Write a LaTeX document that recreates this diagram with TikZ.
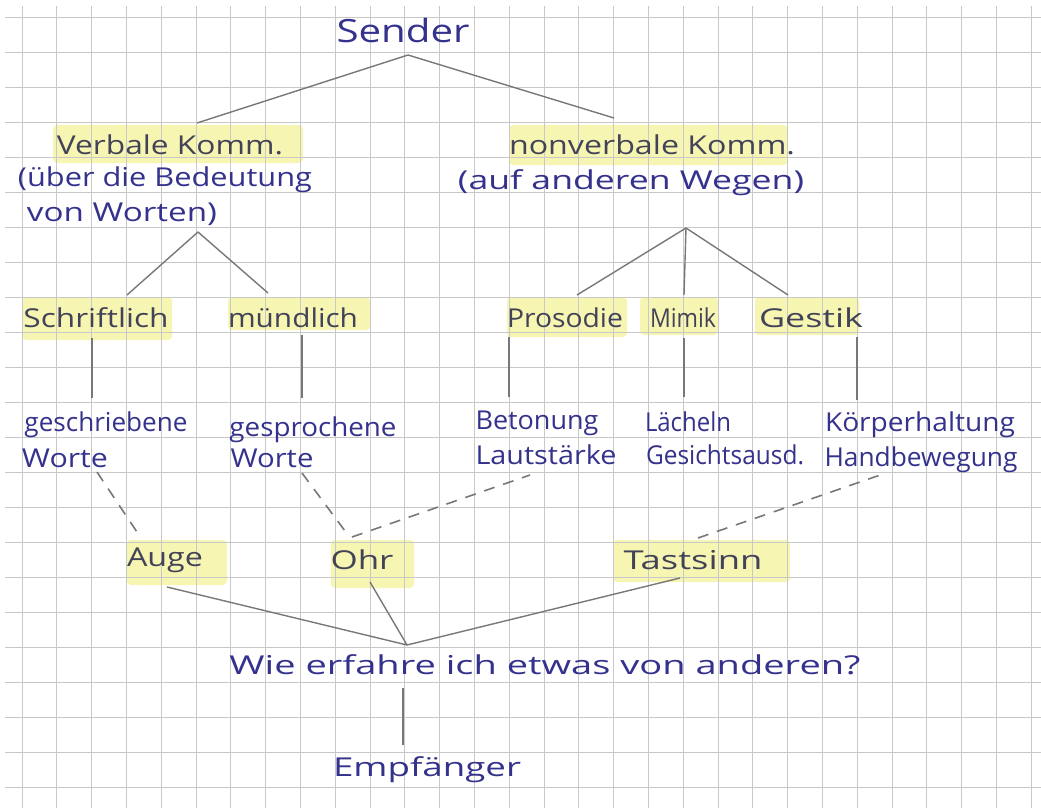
\documentclass[tikz,border=0pt]{standalone}
\usepackage{fontspec}
\setmainfont{Open Sans}
\usepackage{graphicx}
\definecolor{ink}{RGB}{52,50,140}
\definecolor{dark}{RGB}{66,66,88}
\definecolor{hl}{RGB}{246,246,178}
\definecolor{gridc}{RGB}{200,200,200}
\definecolor{pencil}{RGB}{120,120,120}
\newcommand\hw[2]{\resizebox{#1pt}{\height}{#2}}
\begin{document}
\begin{tikzpicture}[x=1pt,y=-1pt,
  lbl/.style={inner sep=0pt, font=\fontsize{26}{28}\selectfont, text=ink},
  key/.style={lbl, text=dark},
  hbox/.style={fill=hl, draw=none, rounded corners=4pt},
  conn/.style={draw=pencil, line width=1.4pt},
  dconn/.style={conn, line width=1.6pt, dash pattern=on 11pt off 9pt},
  gridline/.style={draw=gridc, line width=0.8pt}]
\useasboundingbox (0,0) rectangle (1041,808);
\fill[white] (0,0) rectangle (1041,808);
% highlighter marks
\fill[hbox] (53,125) rectangle (303,163);
\fill[hbox] (509,125) rectangle (788,165);
\fill[hbox] (22,297) rectangle (172,340);
\fill[hbox] (228,297) rectangle (370,330);
\fill[hbox] (507,297) rectangle (627,337);
\fill[hbox] (640,297) rectangle (718,335);
\fill[hbox] (755,297) rectangle (859,335);
\fill[hbox] (127,540) rectangle (227,585);
\fill[hbox] (331,540) rectangle (414,588);
\fill[hbox] (613,540) rectangle (790,582);
% grid paper
\foreach \k in {0,...,29} \draw[gridline] ({22+34.8*\k},6) -- ({22+34.8*\k},808);
\foreach \k in {0,...,22} \draw[gridline] (5,{17+35*\k}) -- (1041,{17+35*\k});
% texts
\node[lbl, font=\fontsize{32}{34}\selectfont] (sender) at (403,31) {\hw{133}{Sender}};
\node[key] (verbal) at (170,145) {\hw{226}{Verbale Komm.}};
\node[lbl] (verbal2) at (165,180) {\hw{294}{(über die Bedeutung}};
\node[lbl] (verbal3) at (122,214) {\hw{190}{von Worten)}};
\node[key] (nonverbal) at (652,145) {\hw{286}{nonverbale Komm.}};
\node[lbl] (nonverbal2) at (631,183) {\hw{346}{(auf anderen Wegen)}};
\node[key] (schrift) at (96,318) {\hw{145}{Schriftlich}};
\node[key] (muend) at (293,318) {\hw{130}{mündlich}};
\node[key] (prosodie) at (565,318) {\hw{116}{Prosodie}};
\node[key] (mimik) at (683,318) {\hw{66}{Mimik}};
\node[key] (gestik) at (811,318) {\hw{104}{Gestik}};
\node[lbl] (geschr) at (106,425) {\hw{163}{geschriebene}};
\node[lbl] (worte1) at (65,458) {\hw{86}{Worte}};
\node[lbl] (gespr) at (313,430) {\hw{167}{gesprochene}};
\node[lbl] (worte2) at (272,458) {\hw{83}{Worte}};
\node[lbl] (beton) at (537,423) {\hw{123}{Betonung}};
\node[lbl] (laut) at (546,455) {\hw{141}{Lautstärke}};
\node[lbl] (laech) at (688,422) {\hw{86}{Lächeln}};
\node[lbl] (gesicht) at (725,455) {\hw{158}{Gesichtsausd.}};
\node[lbl] (koerper) at (920,425) {\hw{190}{Körperhaltung}};
\node[lbl] (hand) at (921,460) {\hw{193}{Handbewegung}};
\node[key] (auge) at (165,560) {\hw{76}{Auge}};
\node[key] (ohr) at (362,560) {\hw{63}{Ohr}};
\node[key] (tast) at (693,560) {\hw{139}{Tastsinn}};
\node[lbl] (frage) at (545,665) {\hw{631}{Wie erfahre ich etwas von anderen?}};
\node[lbl] (empf) at (427,770) {\hw{188}{Empfänger}};
% connector end points
\coordinate (sendbot) at (408,55);
\coordinate (verbtop) at (197,123);
\coordinate (nonvtop) at (614,118);
\coordinate (verbbot) at (198,232);
\coordinate (schtop) at (127,295);
\coordinate (muetop) at (268,293);
\coordinate (nonvbot) at (686,228);
\coordinate (prostop) at (577,295);
\coordinate (mimtop) at (684,295);
\coordinate (gestop) at (788,295);
\coordinate (schbot) at (92,338);  \coordinate (geschrtop) at (92,398);
\coordinate (muebot) at (302,335); \coordinate (gesprtop) at (302,398);
\coordinate (prosbot) at (509,337); \coordinate (betontop) at (509,397);
\coordinate (mimbot) at (684,338); \coordinate (laechtop) at (684,397);
\coordinate (gesbot) at (857,337); \coordinate (koerptop) at (857,400);
\coordinate (worte1bot) at (97,472); \coordinate (augetop) at (137,532);
\coordinate (worte2bot) at (302,473); \coordinate (ohrtop) at (348,535);
\coordinate (ohrright) at (352,537); \coordinate (lautbot) at (530,475);
\coordinate (tasttop) at (698,538); \coordinate (handbot) at (886,473);
\coordinate (augebot) at (167,587);
\coordinate (ohrbot) at (370,582);
\coordinate (tastbot) at (680,578);
\coordinate (hub) at (407,645);
\coordinate (fragebot) at (403,688); \coordinate (empftop) at (403,745);
% connectors
\draw[conn] (sendbot) -- (verbtop);
\draw[conn] (sendbot) -- (nonvtop);
\draw[conn] (verbbot) -- (schtop);
\draw[conn] (verbbot) -- (muetop);
\draw[conn] (nonvbot) -- (prostop);
\draw[conn] (nonvbot) -- (mimtop);
\draw[conn] (nonvbot) -- (gestop);
\draw[conn] (schbot) -- (geschrtop);
\draw[conn] (muebot) -- (gesprtop);
\draw[conn] (prosbot) -- (betontop);
\draw[conn] (mimbot) -- (laechtop);
\draw[conn] (gesbot) -- (koerptop);
\draw[dconn] (worte1bot) -- (augetop);
\draw[dconn] (worte2bot) -- (ohrtop);
\draw[dconn] (ohrright) -- (lautbot);
\draw[dconn] (tasttop) -- (handbot);
\draw[conn] (augebot) -- (hub);
\draw[conn] (ohrbot) -- (hub);
\draw[conn] (tastbot) -- (hub);
\draw[conn] (fragebot) -- (empftop);
\end{tikzpicture}
\end{document}
